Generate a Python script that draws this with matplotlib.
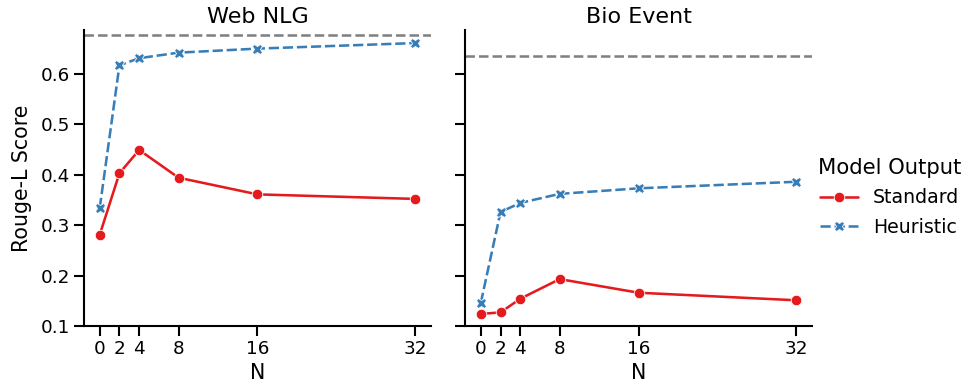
import matplotlib
matplotlib.use("Agg")
import matplotlib.pyplot as plt
import seaborn as sns

n_shots = [0, 2, 4, 8, 16, 32]
panels = ["Web NLG", "Bio Event"]

# Rouge-L scores
standard = {
    "Web NLG": [0.281, 0.403, 0.449, 0.394, 0.361, 0.352],
    "Bio Event": [0.124, 0.127, 0.154, 0.193, 0.166, 0.151],
}
heuristic = {
    "Web NLG": [0.334, 0.617, 0.631, 0.642, 0.650, 0.661],
    "Bio Event": [0.146, 0.326, 0.344, 0.362, 0.373, 0.386],
}
reference = {"Web NLG": 0.677, "Bio Event": 0.636}

sns.set_theme(context="talk", style="ticks")
plt.rcParams["font.family"] = ["DejaVu Sans"]
for key in ["text.color", "axes.labelcolor", "xtick.color", "ytick.color",
            "axes.edgecolor"]:
    plt.rcParams[key] = "black"

pal = sns.color_palette("Set1")
fig = plt.figure(figsize=(965 / 80, 387 / 80), dpi=80)
ax1 = fig.add_axes([0.087, 0.1576, 0.3596, 0.765])
ax2 = fig.add_axes([0.4819, 0.1576, 0.3596, 0.765], sharey=ax1)

for ax, name in zip([ax1, ax2], panels):
    ax.plot(n_shots, standard[name], color=pal[0], marker="o", ms=9.5,
            mec="white", mew=0.75, lw=2.3, label="Standard")
    ax.plot(n_shots, heuristic[name], color=pal[1], marker="X", ms=9.5,
            mec="white", mew=0.75, lw=2.3, dashes=(4, 1.5), label="Heuristic")
    ax.axhline(reference[name], color="gray", ls="--", lw=2.3)
    ax.set_title(name, fontsize=20)
    ax.set_xlabel("N", fontsize=18.5, labelpad=5)
    ax.set_xticks(n_shots)
    ax.set_xlim(-1.6, 33.6)
    sns.despine(ax=ax)

ax1.set_ylim(0.1, 0.687)
ax1.set_yticks([0.1, 0.2, 0.3, 0.4, 0.5, 0.6])
ax1.set_ylabel("Rouge-L Score", fontsize=18.5, labelpad=8)
plt.setp(ax2.get_yticklabels(), visible=False)

handles, labels = ax1.get_legend_handles_labels()
leg = fig.legend(handles, labels, title="Model Output", loc="center left",
                 bbox_to_anchor=(0.83, 0.49), frameon=False, fontsize=17,
                 title_fontsize=19, labelspacing=0.55)

fig.savefig("out.png", dpi=80)
